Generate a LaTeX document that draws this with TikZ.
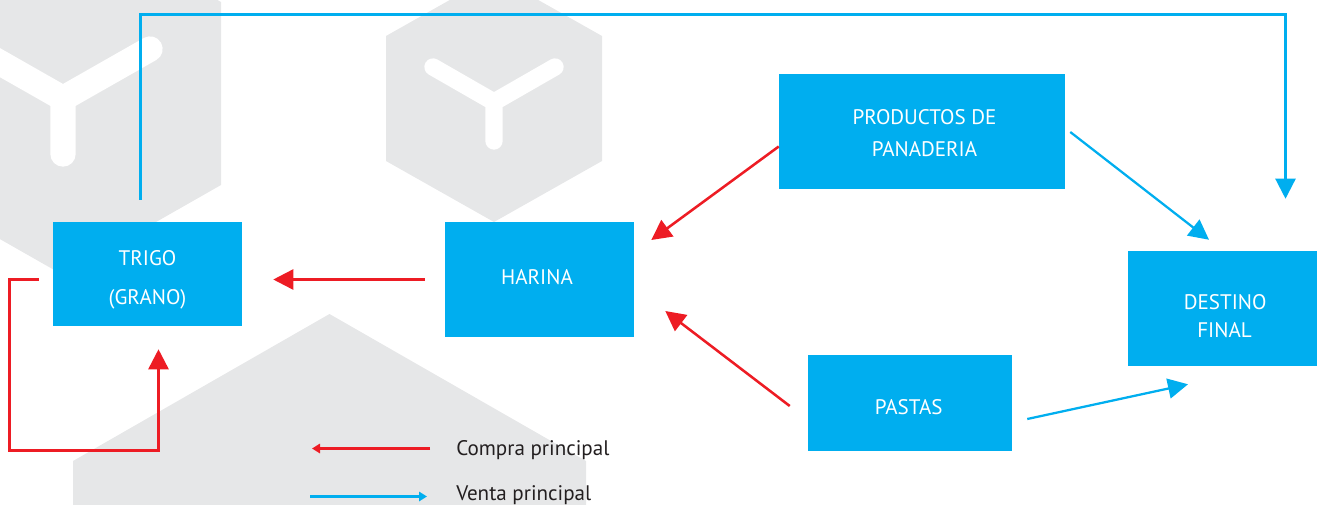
\documentclass[tikz,border=0pt]{standalone}
\usepackage{fontspec}
\setmainfont{PT Sans}
\usetikzlibrary{arrows.meta,calc}
\definecolor{celeste}{HTML}{00AEEF}
\definecolor{rojo}{HTML}{ED1C24}
\definecolor{gris}{HTML}{E6E7E8}
\definecolor{tinta}{HTML}{231F20}
\tikzset{
  caja/.style={fill=celeste,text=white,align=center,inner sep=0pt,font=\fontsize{15.8}{19}\selectfont},
  hexagono/.style={fill=gris},
  ye/.style={white,line cap=round},
  compra/.style={draw=rojo,line width=1.9pt,-{Triangle[length=15pt,width=15pt]},rojo},
  venta/.style={draw=celeste,line width=1.7pt,-{Triangle[length=15pt,width=15pt]},celeste},
  compraley/.style={compra,-{Triangle[length=6pt,width=7pt]}},
  ventaley/.style={venta,-{Triangle[length=6pt,width=7pt]}},
  leyenda/.style={text=tinta,anchor=base west,inner sep=0pt,font=\fontsize{15.8}{19}\selectfont}
}
\def\anchocaja{141.75pt}

\begin{document}
\begin{tikzpicture}[x=0.75pt,y=-0.75pt]
  \useasboundingbox (0,0) rectangle (1317,504);
  \clip (0,0) rectangle (1317,504);

  % Fondo
  \fill[hexagono] (221,2) -- (63,-88) -- (-95,2) -- (-95,185) -- (63,275) -- (221,185) -- cycle;
  \draw[ye,line width=19pt] (-24,49) -- (63,98.5) -- (150,49) (63,98.5) -- (63,154);
  \fill[hexagono] (602,36) -- (494,-25) -- (386,36) -- (386,161) -- (494,222) -- (602,161) -- cycle;
  \draw[ye,line width=13pt] (433,67) -- (494,102) -- (555,67) (494,102) -- (494,141);
  \fill[hexagono] (586,461) -- (329.5,314) -- (73,461) -- (73,510) -- (586,510) -- cycle;

  % Cajas
  \node[caja,minimum width=\anchocaja,minimum height=78pt] (trigo) at (147.5,274) {\rule{0pt}{20pt}TRIGO\\[10pt](GRANO)};
  \node[caja,minimum width=\anchocaja,minimum height=86.25pt] (harina) at (539.5,279.5) {HARINA\hspace*{3.75pt}\rule[-4pt]{0pt}{4pt}};
  \node[caja,minimum width=214.5pt,minimum height=86.25pt] (productos) at (922,131.5) {\rule{0pt}{14pt}\hspace*{3.75pt}PRODUCTOS DE\\[5pt]\hspace*{3.75pt}PANADERIA};
  \node[caja,minimum width=153pt,minimum height=72pt] (pastas) at (910,403) {\rule{0pt}{17pt}PASTAS\hspace*{2pt}};
  \node[caja,minimum width=\anchocaja,minimum height=86.25pt] (destino) at (1222.5,308.5) {\rule{0pt}{22pt}\hspace*{4pt}DESTINO\\[2pt]\hspace*{3pt}FINAL};

  % Leyenda
  \node[leyenda] (leycompra) at (456,455) {Compra principal};
  \node[leyenda] (leyventa) at (456,500) {Venta principal};
  \draw[compraley] ($(leycompra.base west)+(-26,-6.5)$) -- ($(leycompra.base west)+(-144,-6.5)$);
  \draw[ventaley] ($(leyventa.base west)+(-146,-3.5)$) -- ($(leyventa.base west)+(-29,-3.5)$);

  % Compra
  \draw[compra] ($(harina.west)+(-20,0)$) -- ($(trigo.east)+(31,5.5)$);
  \draw[compra] ($(productos.west)+(0,15)$) -- ($(harina.east)+(17,-39.5)$);
  \draw[compra] ($(pastas.west)+(-18,3)$) -- ($(harina.east)+(31,31.5)$);
  \coordinate (lazoa) at (9.5,279.5);
  \coordinate (lazob) at (9.5,450.5);
  \coordinate (lazoc) at (158.5,450.5);
  \draw[compra] ($(trigo.west)+(-14,5.5)$) -- (lazoa) -- (lazob) -- (lazoc) -- ($(trigo.south)+(11,23)$);

  % Venta
  \coordinate (techoa) at (140.5,14.5);
  \coordinate (techob) at (1285.5,14.5);
  \draw[venta] ($(trigo.north)+(-7,-22)$) -- (techoa) -- (techob) -- ($(destino.north)+(63,-52)$);
  \draw[venta] ($(productos.east)+(5,0.5)$) -- ($(destino.north)+(-13.5,-11)$);
  \draw[venta] ($(pastas.east)+(15,16)$) -- ($(destino.south)+(-34.5,18)$);
\end{tikzpicture}
\end{document}
